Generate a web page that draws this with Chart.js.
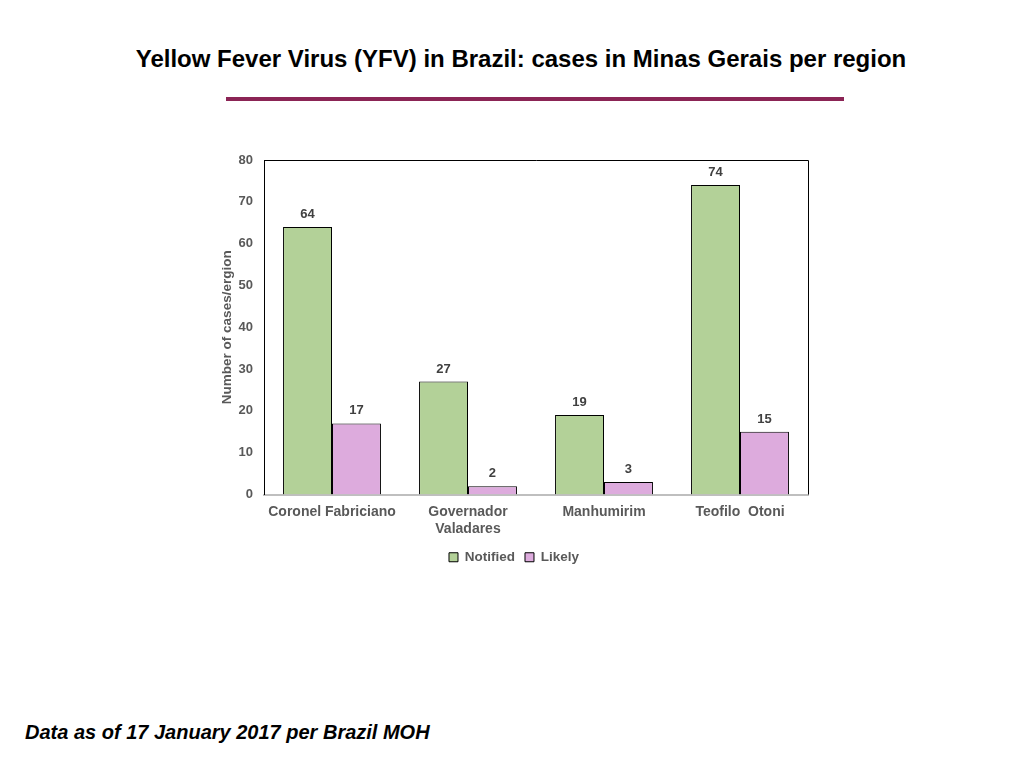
<!DOCTYPE html>
<html>
<head>
<meta charset="utf-8">
<script src="https://cdn.jsdelivr.net/npm/chart.js@4"></script>
<style>
  html, body { margin:0; padding:0; background:#fff; width:1024px; height:768px; overflow:hidden; }
  #title { position:absolute; left:0; width:1042px; top:45px; text-align:center; font-family:"Liberation Sans", Arial, sans-serif; font-weight:bold; font-size:24px; color:#000; }
  #rule { position:absolute; left:226px; width:618px; top:97px; height:4px; background:#8B2455; }
  #foot { position:absolute; left:25px; top:721px; font-family:"Liberation Sans", Arial, sans-serif; font-weight:bold; font-style:italic; font-size:20px; color:#000; }
  #wrap { position:absolute; left:200px; top:140px; width:640px; height:434px; }
</style>
</head>
<body>
<div id="title">Yellow Fever Virus (YFV) in Brazil: cases in Minas Gerais per region</div>
<div id="rule"></div>
<div id="wrap"><canvas id="c"></canvas></div>
<div id="foot">Data as of 17 January 2017 per Brazil MOH</div>
<script>
const categories = [["Coronel Fabriciano"], ["Governador", "Valadares"], ["Manhumirim"], ["Teofilo  Otoni"]];
const notified = [64, 27, 19, 74];
const likely = [17, 2, 3, 15];
const seriesNames = ["Notified", "Likely"];
const yTicksMax = 80;
const yStep = 10;

const FONT = '"Liberation Sans", Arial, sans-serif';

const labelPlugin = {
  id: 'valueLabels',
  afterDatasetsDraw(chart) {
    const ctx = chart.ctx;
    ctx.save();
    ctx.font = 'bold 13px ' + FONT;
    ctx.fillStyle = '#404040';
    ctx.textAlign = 'center';
    ctx.textBaseline = 'bottom';
    chart.data.datasets.forEach((ds, i) => {
      chart.getDatasetMeta(i).data.forEach((bar, j) => {
        ctx.fillText(String(ds.data[j]), bar.x, bar.y - 6);
      });
    });
    const a = chart.chartArea;
    ctx.strokeStyle = '#000';
    ctx.lineWidth = 1;
    ctx.beginPath();
    ctx.moveTo(a.left, a.top + 0.5);
    ctx.lineTo(a.right + 0.5, a.top + 0.5);
    ctx.lineTo(a.right + 0.5, a.bottom);
    ctx.stroke();
    ctx.restore();
  }
};

new Chart(document.getElementById('c'), {
  type: 'bar',
  data: {
    labels: categories,
    datasets: [
      { label: seriesNames[0], data: notified, backgroundColor: '#B3D198', borderColor: '#000', borderWidth: 1, borderSkipped: 'bottom' },
      { label: seriesNames[1], data: likely, backgroundColor: '#DDABDD', borderColor: '#000', borderWidth: 1, borderSkipped: 'bottom' }
    ]
  },
  options: {
    responsive: true,
    maintainAspectRatio: false,
    animation: false,
    layout: { padding: { left: 20, right: 32, top: 20, bottom: 0 } },
    datasets: { bar: { categoryPercentage: 0.72, barPercentage: 1.0 } },
    scales: {
      x: {
        afterFit(s) { s.height = 46; },
        grid: { display: false, drawTicks: false },
        border: { color: '#BFBFBF', width: 2 },
        ticks: { color: '#595959', font: { family: FONT, weight: 'bold', size: 14, lineHeight: 1.15 }, padding: 10, maxRotation: 0 }
      },
      y: {
        afterFit(s) { s.width = 44; },
        min: 0, max: yTicksMax,
        grid: { display: false, drawTicks: false },
        border: { color: '#000', width: 1 },
        ticks: { stepSize: yStep, color: '#595959', font: { family: FONT, weight: 'bold', size: 13 }, padding: 11 },
        title: { display: true, text: 'Number of cases/ergion', color: '#595959', font: { family: FONT, weight: 'bold', size: 13.5, lineHeight: 1.1 }, padding: { top: 0, bottom: 0 } }
      }
    },
    plugins: {
      legend: {
        position: 'bottom',
        labels: { color: '#595959', boxWidth: 9, boxHeight: 9, padding: 10, font: { family: FONT, weight: 'bold', size: 13.5 } }
      },
      tooltip: { enabled: false }
    }
  },
  plugins: [labelPlugin]
});
</script>
</body>
</html>
